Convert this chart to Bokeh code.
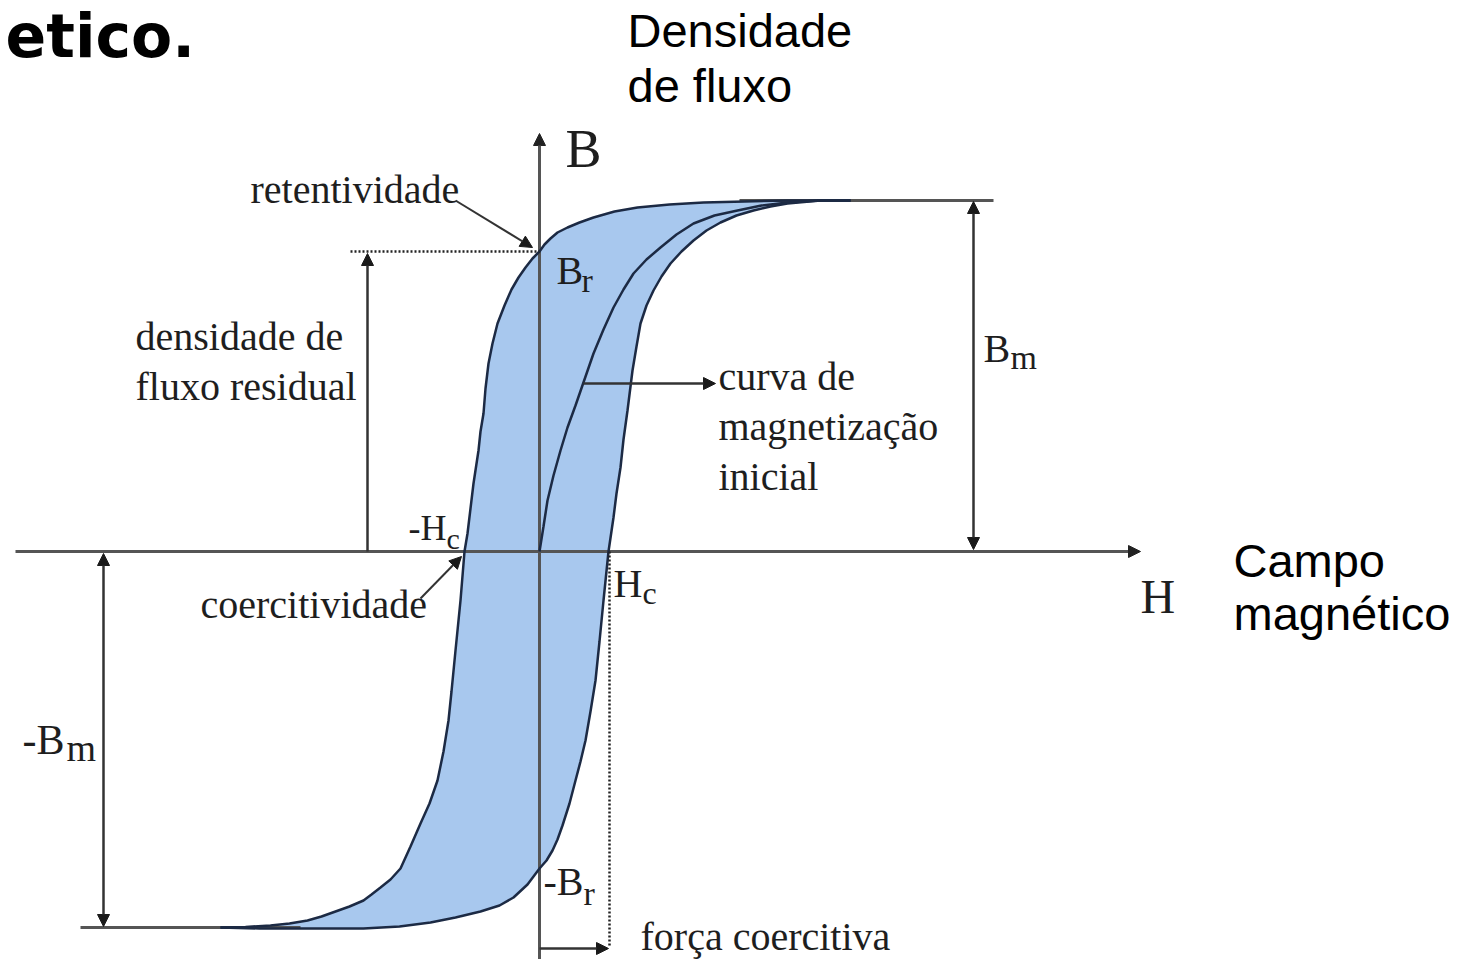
from bokeh.plotting import figure
from bokeh.models import Range1d, ColumnDataSource, Arrow, NormalHead
from bokeh.core.properties import value
from bokeh.embed import file_html
from bokeh.resources import INLINE

# ---- hysteresis loop (H, B) in diagram units; origin = axes crossing ----
upper_H = [311, 280, 248, 205, 164, 130, 98, 75, 54, 40, 28, 18, 11, 5, 0, -7, -14, -21, -28,
           -35, -42, -47, -51, -54, -56, -59, -61, -66, -72, -75, -79, -84, -88, -91, -96,
           -102, -110, -119, -129, -139, -149, -159, -168, -176, -190, -204, -218, -232, -250,
           -269, -294, -319]
upper_B = [351, 351, 351, 350, 349, 347, 344, 340, 334, 329, 324, 319, 313, 307, 300, 293, 284,
           274, 262, 246, 228, 208, 188, 163, 138, 120, 101, 68, 18, 0, -49, -99, -140, -169,
           -200, -229, -252, -272, -295, -317, -328, -336, -343, -349, -355, -360, -365, -369,
           -372, -374, -375.5, -376]
lower_H = [-319, -280, -239, -176, -140, -109, -84, -59, -40, -26, -12, 0, 7, 13, 18, 23, 30,
           36, 41, 46, 51, 56, 60, 64, 69, 74, 77, 81, 84, 88, 93, 97, 101, 107, 114, 122, 131,
           142, 154, 167, 181, 197, 214, 231, 248, 281, 311]
lower_B = [-376, -377, -377, -377, -375, -371, -366, -360, -354, -346, -333, -317, -309, -299,
           -288, -274, -252, -229, -210, -189, -160, -129, -90, -49, 0, 34, 58, 84, 112, 141,
           181, 205, 228, 246, 261, 275, 288, 300, 311, 321, 329, 336, 341, 345, 348, 351, 351]
init_H = [0, 4, 8, 14, 21, 28, 36, 45, 54, 64, 74, 84, 94, 107, 121, 137, 154, 175, 198, 222,
          248, 280, 311]
init_B = [0, 25, 51, 76, 101, 124, 146, 172, 198, 222, 244, 262, 278, 292, 304, 317, 328, 336,
          341, 346, 349, 351, 351]

# key levels
Br = 300
Bm = 351
Bm_neg = -376
Hc = 69

# ---- labels (x = left edge, y = baseline) ----
serif_text = ["retentividade", "densidade de", "fluxo residual", "curva de", "magnetização",
              "inicial", "coercitividade", "força coercitiva", "B", "H",
              "B", "r", "-H", "c", "H", "c", "-B", "r", "B", "m", "-B", "m"]
serif_x = [-289, -404, -404, 179, 179, 179, -339, 101, 26, 601,
           17, 42, -131, -93, 74, 103, 4, 44, 444, 471, -517, -473]
serif_y = [348, 201, 151, 161, 111, 61, -67, -399, 383, -62,
           267, 259, 11, 2, -46, -53, -344, -354, 189, 182, -204, -210]
serif_px = [40] * 8 + [54, 48] + [40, 34, 36, 30, 40, 32, 40, 34, 40, 34, 42, 38]

sans_text = ["Densidade", "de fluxo", "Campo", "magnético"]
sans_x = [88, 88, 694, 694]
sans_y = [504, 449, -26, -79]
sans_px = 47

title_text = ["etico."]
title_x = [-534]
title_y = [494]
title_px = 60

p = figure(width=1452, height=959, x_range=Range1d(-539, 913), y_range=Range1d(-408, 551),
           output_backend="svg", toolbar_location=None, x_axis_location=None,
           y_axis_location=None, min_border=0)
p.grid.visible = False
p.outline_line_color = None
p.background_fill_color = "white"
p.border_fill_color = "white"

navy = "#1c2a44"
gray = "#555555"
blue = "#a8c8ee"

# filled loop
p.patch(upper_H + lower_H, upper_B + lower_B, fill_color=blue, line_color=None)

# axes
p.line([-524, 595], [0, 0], line_color=gray, line_width=3)
p.add_layout(Arrow(end=NormalHead(size=12, fill_color="#222", line_color="#222"),
                   x_start=590, y_start=0, x_end=601, y_end=0, line_color=gray, line_width=3))
p.line([0, 0], [-421, 412], line_color=gray, line_width=3)
p.add_layout(Arrow(end=NormalHead(size=12, fill_color="#222", line_color="#222"),
                   x_start=0, y_start=405, x_end=0, y_end=418, line_color=gray, line_width=3))

# saturation lines
p.line([200, 454], [Bm, Bm], line_color=gray, line_width=3)
p.line([-459, -239], [Bm_neg, Bm_neg], line_color=gray, line_width=3)

# loop curves
p.line(upper_H, upper_B, line_color=navy, line_width=2.5)
p.line(lower_H, lower_B, line_color=navy, line_width=2.5)
p.line(init_H, init_B, line_color=navy, line_width=2.5)

# dotted guides
p.line([-189, 0], [Br, Br], line_color="#222", line_width=2.5, line_dash="2 2")
p.line([Hc + 1, Hc + 1], [0, -395], line_color="#222", line_width=2.5, line_dash="2 2")

def arrow(x0, y0, x1, y1, both=False, lw=2.5):
    head = lambda: NormalHead(size=12, fill_color="#1a1a1a", line_color="#1a1a1a")
    p.add_layout(Arrow(start=head() if both else None, end=head(),
                       x_start=x0, y_start=y0, x_end=x1, y_end=y1,
                       line_color="#333", line_width=lw))

arrow(-172, 0, -172, Br - 2)                 # residual flux arrow
arrow(434, 2, 434, Bm - 1, both=True)         # Bm
arrow(-436, -2, -436, Bm_neg + 1, both=True)  # -Bm
arrow(44, 168, 176, 168)                      # initial magnetization curve
arrow(-84, 351, -7, 304, lw=2)               # retentividade
arrow(-119, -47, -78, -5, lw=2)              # coercitividade
arrow(0, -397, Hc, -397)                     # forca coercitiva

# the renderer places text about 0.36 em below the requested baseline; compensate
def shift(ys, sizes):
    return [y + 0.36 * s for y, s in zip(ys, sizes)]

src_serif = ColumnDataSource(dict(x=serif_x, y=shift(serif_y, serif_px), text=serif_text,
                                  size=["%dpx" % s for s in serif_px]))
p.text(x="x", y="y", text="text", source=src_serif, text_font=value("Liberation Serif"),
       text_font_size="size", text_color="#1e1e1e", text_baseline="alphabetic",
       text_align="left")

src_sans = ColumnDataSource(dict(x=sans_x, y=shift(sans_y, [sans_px] * 4), text=sans_text))
p.text(x="x", y="y", text="text", source=src_sans, text_font=value("Liberation Sans"),
       text_font_size="%dpx" % sans_px, text_color="black", text_baseline="alphabetic",
       text_align="left")

src_title = ColumnDataSource(dict(x=title_x, y=shift(title_y, [title_px]), text=title_text))
p.text(x="x", y="y", text="text", source=src_title, text_font=value("DejaVu Sans"),
       text_font_size="%dpx" % title_px, text_font_style="bold", text_color="black",
       text_baseline="alphabetic", text_align="left")

open("out.html", "w").write(file_html(p, INLINE))
